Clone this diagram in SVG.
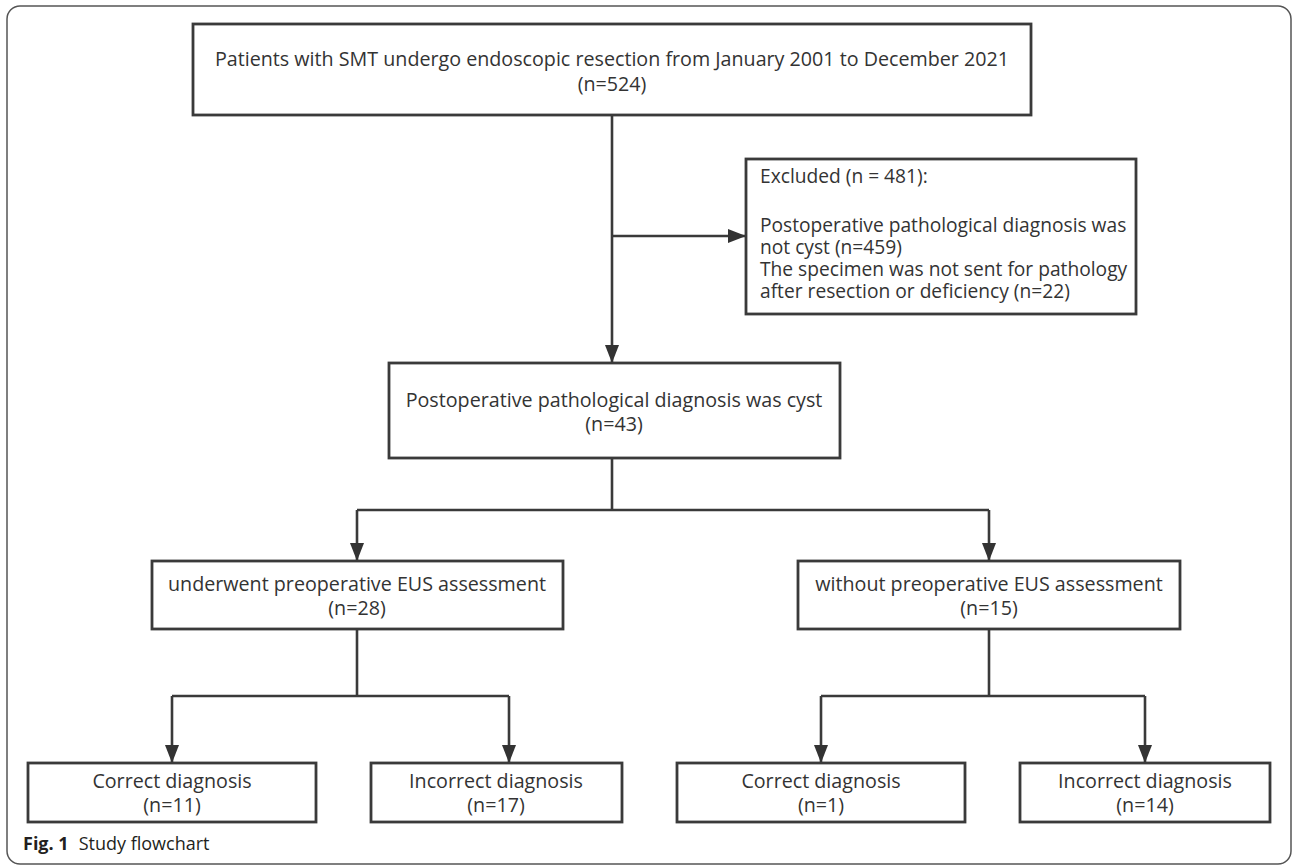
<svg xmlns="http://www.w3.org/2000/svg" width="1292" height="866" viewBox="0 0 1292 866">
<defs>
<style>
.box{fill:#fff;stroke:#3a3a3a;stroke-width:2.8}
.t{font-family:"Open Sans","Noto Sans",sans-serif;font-size:19.7px;fill:#333}
.ex{font-size:19.2px}
.c{text-anchor:middle}
.ln{fill:none;stroke:#3a3a3a;stroke-width:2.6}
.cap{font-family:"Open Sans","Noto Sans",sans-serif;font-size:18px;fill:#231f20}
</style>
<marker id="ah" viewBox="0 0 18 14" refX="18" refY="7" markerWidth="18" markerHeight="14" markerUnits="userSpaceOnUse" orient="auto">
<path d="M0,0 L18,7 L0,14 Z" fill="#333"/>
</marker>
</defs>
<rect x="7" y="6" width="1284" height="858" rx="13" fill="#fff" stroke="#555" stroke-width="1.5"/>
<g id="connectors">
<path class="ln" d="M612,115 V363" marker-end="url(#ah)"/>
<path class="ln" d="M612,236 H746" marker-end="url(#ah)"/>
<path class="ln" d="M612,458 V510"/>
<path class="ln" d="M357,510 H989"/>
<path class="ln" d="M357,510 V561" marker-end="url(#ah)"/>
<path class="ln" d="M989,510 V561" marker-end="url(#ah)"/>
<path class="ln" d="M357,629 V696"/>
<path class="ln" d="M172,696 H509"/>
<path class="ln" d="M172,696 V763" marker-end="url(#ah)"/>
<path class="ln" d="M509,696 V763" marker-end="url(#ah)"/>
<path class="ln" d="M989,629 V696"/>
<path class="ln" d="M821,696 H1145"/>
<path class="ln" d="M821,696 V763" marker-end="url(#ah)"/>
<path class="ln" d="M1145,696 V763" marker-end="url(#ah)"/>
</g>
<g id="n-top">
<rect class="box" x="193" y="24" width="838" height="91"/>
<text class="t c" x="612" y="66">Patients with SMT undergo endoscopic resection from January 2001 to December 2021</text>
<text class="t c" x="612" y="91">(n=524)</text>
</g>
<g id="n-excluded">
<rect class="box" x="746" y="159" width="390" height="155"/>
<text class="t ex" x="760" y="183">Excluded (n = 481):</text>
<text class="t ex" x="760" y="232">Postoperative pathological diagnosis was</text>
<text class="t ex" x="760" y="254">not cyst (n=459)</text>
<text class="t ex" x="760" y="276">The specimen was not sent for pathology</text>
<text class="t ex" x="760" y="298">after resection or deficiency (n=22)</text>
</g>
<g id="n-cyst">
<rect class="box" x="389" y="363" width="451" height="95"/>
<text class="t c" x="614" y="407">Postoperative pathological diagnosis was cyst</text>
<text class="t c" x="614" y="431">(n=43)</text>
</g>
<g id="n-eus">
<rect class="box" x="152" y="561" width="411" height="68"/>
<text class="t c" x="357" y="591">underwent preoperative EUS assessment</text>
<text class="t c" x="357" y="615">(n=28)</text>
</g>
<g id="n-noeus">
<rect class="box" x="798" y="561" width="382" height="68"/>
<text class="t c" x="989" y="591">without preoperative EUS assessment</text>
<text class="t c" x="989" y="615">(n=15)</text>
</g>
<g id="n-eus-correct">
<rect class="box" x="28" y="763" width="288" height="59"/>
<text class="t c" x="172" y="788">Correct diagnosis</text>
<text class="t c" x="172" y="812">(n=11)</text>
</g>
<g id="n-eus-incorrect">
<rect class="box" x="371" y="763" width="251" height="59"/>
<text class="t c" x="496" y="788">Incorrect diagnosis</text>
<text class="t c" x="496" y="812">(n=17)</text>
</g>
<g id="n-noeus-correct">
<rect class="box" x="677" y="763" width="288" height="59"/>
<text class="t c" x="821" y="788">Correct diagnosis</text>
<text class="t c" x="821" y="812">(n=1)</text>
</g>
<g id="n-noeus-incorrect">
<rect class="box" x="1020" y="763" width="250" height="59"/>
<text class="t c" x="1145" y="788">Incorrect diagnosis</text>
<text class="t c" x="1145" y="812">(n=14)</text>
</g>
<text class="cap" x="23" y="850"><tspan font-weight="bold">Fig. 1</tspan><tspan dx="10">Study flowchart</tspan></text>
</svg>
